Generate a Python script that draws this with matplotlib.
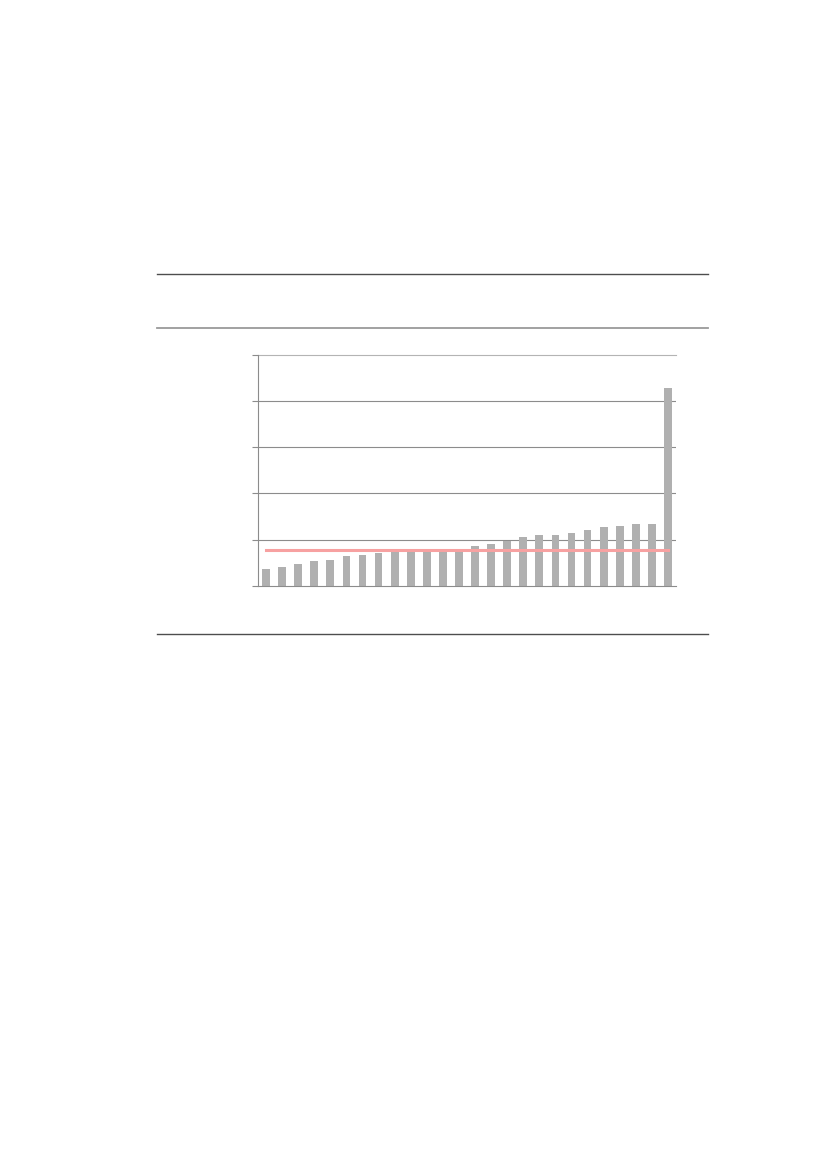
import matplotlib
matplotlib.use("Agg")
import matplotlib.pyplot as plt
from matplotlib.lines import Line2D

# bar heights (one gridline step = 1)
positions = list(range(26))
values = [0.37, 0.41, 0.48, 0.53, 0.57, 0.64, 0.68, 0.72, 0.76, 0.78,
          0.79, 0.80, 0.81, 0.86, 0.91, 0.97, 1.06, 1.10, 1.10, 1.14,
          1.22, 1.28, 1.30, 1.33, 1.33, 4.29]
reference = [0.782] * len(values)
yticks = [0, 1, 2, 3, 4, 5]

fig = plt.figure(figsize=(8.27, 11.70), dpi=100)

# page rules
for y, col, lw in [(1 - 273.5 / 1170, '#4d4d4d', 1.0),
                   (1 - 327.5 / 1170, '#9a9a9a', 1.3),
                   (1 - 634 / 1170, '#4d4d4d', 1.0)]:
    fig.add_artist(Line2D([157 / 827, 708 / 827], [y, y], color=col,
                          linewidth=lw, transform=fig.transFigure))

ax = fig.add_axes([258 / 827, 1 - 586 / 1170, 418 / 827, (586 - 354.7) / 1170])

ax.bar(positions, values, width=0.48, color='#b0b0b0', zorder=2)
ax.plot(positions, reference, color='#f7a1a1', linewidth=2.2,
        solid_capstyle='projecting', zorder=3)

ax.set_xlim(-0.5, 25.5)
ax.set_ylim(0, 5)
ax.set_yticks(yticks)
ax.set_yticklabels([])
ax.set_xticks([])
for t in yticks[1:-1]:
    ax.axhline(t, color='#8c8c8c', linewidth=0.8, zorder=1)
ax.axhline(5, color='#b4b4b4', linewidth=0.8, zorder=1, clip_on=False)

for side in ['top', 'right']:
    ax.spines[side].set_visible(False)
ax.spines['left'].set_color('#8c8c8c')
ax.spines['left'].set_linewidth(0.8)
ax.spines['bottom'].set_color('#8c8c8c')
ax.spines['bottom'].set_linewidth(0.8)
ax.tick_params(axis='y', length=4, width=0.8, color='#8c8c8c')
ax.set_facecolor('none')

plt.savefig('out.png', dpi=100)
